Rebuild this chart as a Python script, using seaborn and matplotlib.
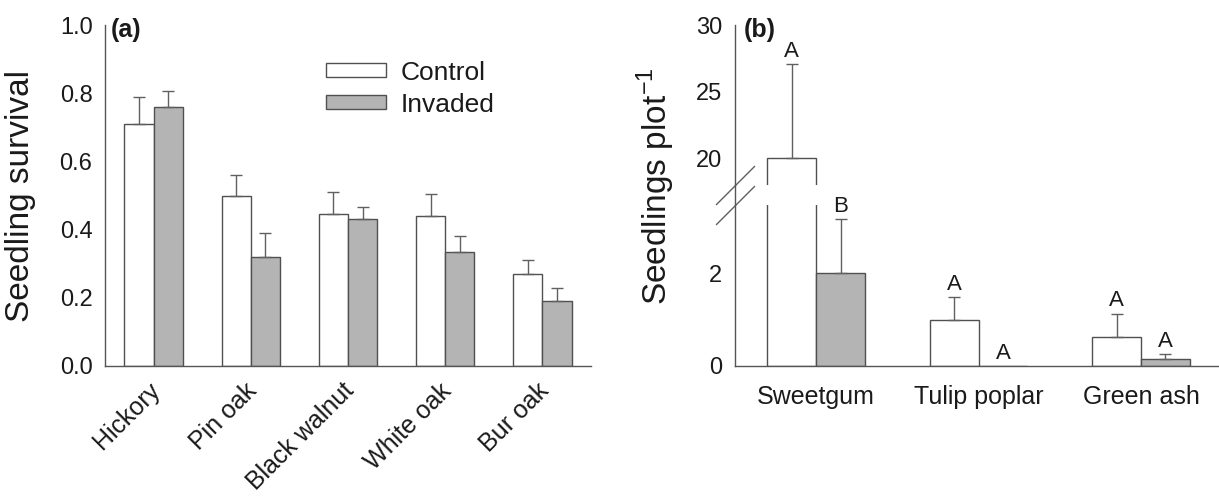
import numpy as np
import pandas as pd
import matplotlib
matplotlib.use("Agg")
import matplotlib.pyplot as plt
import matplotlib.transforms as mtransforms
import seaborn as sns
from matplotlib.lines import Line2D

# ---------------- data ----------------
species_a = ["Hickory", "Pin oak", "Black walnut", "White oak", "Bur oak"]
control_a = [0.71, 0.50, 0.445, 0.44, 0.27]
control_a_se = [0.08, 0.06, 0.065, 0.065, 0.04]
invaded_a = [0.76, 0.32, 0.43, 0.335, 0.19]
invaded_a_se = [0.045, 0.07, 0.035, 0.047, 0.04]

species_b = ["Sweetgum", "Tulip poplar", "Green ash"]
control_b = [20.0, 1.0, 0.63]
control_b_se = [7.1, 0.49, 0.50]
invaded_b = [2.0, 0.0, 0.145]
invaded_b_se = [1.16, 0.0, 0.12]
letters_control_b = ["A", "A", "A"]
letters_invaded_b = ["B", "A", "A"]

treatments = ["Control", "Invaded"]
yticks_a = [0.0, 0.2, 0.4, 0.6, 0.8, 1.0]
yticks_b_top = [20, 25, 30]
yticks_b_bot = [0, 2]

# ---------------- style ----------------
sns.set_style("white")
plt.rcParams["font.family"] = ["Liberation Sans", "DejaVu Sans"]
plt.rcParams["mathtext.fontset"] = "custom"
plt.rcParams["mathtext.rm"] = "Liberation Sans"
TXT = "#1a1a1a"
SP = "#555555"
EDGE = "#505050"
palette = {"Control": "#ffffff", "Invaded": "#b4b4b4"}

df_a = pd.DataFrame({
    "species": species_a * 2,
    "treatment": ["Control"] * 5 + ["Invaded"] * 5,
    "value": control_a + invaded_a,
    "se": control_a_se + invaded_a_se,
})
df_b = pd.DataFrame({
    "species": species_b * 2,
    "treatment": ["Control"] * 3 + ["Invaded"] * 3,
    "value": control_b + invaded_b,
    "se": control_b_se + invaded_b_se,
})

W, H = 1219, 496
fig = plt.figure(figsize=(W / 100, H / 100), dpi=100)


def rect(l, t, r, b):
    return [l / W, 1 - b / H, (r - l) / W, (b - t) / H]


axA = fig.add_axes(rect(105, 25, 591, 366))
axBt = fig.add_axes(rect(735, 25, 1219, 185))
axBb = fig.add_axes(rect(735, 205, 1219, 366))


def draw_bars(ax, df, order):
    sns.barplot(data=df, x="species", y="value", hue="treatment", order=order,
                hue_order=treatments, palette=palette, edgecolor=EDGE,
                linewidth=1.0, width=0.6, errorbar=None, legend=False, ax=ax)
    n = len(order)
    centers, tops = [], []
    for p in ax.patches[:2 * n]:
        centers.append(p.get_x() + p.get_width() / 2)
        tops.append(p.get_height())
    cx = np.array(centers)
    ty = np.array(tops)
    se = np.array(list(df["se"]))
    m = se > 0
    ax.errorbar(cx[m], ty[m], yerr=[np.zeros(m.sum()), se[m]], fmt="none",
                ecolor="#606060", elinewidth=1.0, capsize=4, capthick=1.0, zorder=1)
    return cx, ty, se


def style_ax(ax, xpad):
    for s in ["top", "right"]:
        ax.spines[s].set_visible(False)
    for s in ["left", "bottom"]:
        ax.spines[s].set_color(SP)
        ax.spines[s].set_linewidth(1.0)
    ax.tick_params(axis="y", direction="out", length=5, width=1, color=SP,
                   labelsize=17, labelcolor=TXT, pad=4)
    ax.tick_params(axis="x", length=0, labelsize=18, labelcolor=TXT, pad=xpad)
    ax.set_xlabel("")
    ax.set_ylabel("")


# ---------------- panel (a) ----------------
draw_bars(axA, df_a, species_a)
style_ax(axA, 9)
axA.set_ylim(0, 1.0)
axA.set_xlim(-0.5, 4.5)
axA.set_yticks(yticks_a)
axA.set_yticklabels([f"{v:.1f}" for v in yticks_a])
axA.set_xticks(range(len(species_a)))
axA.set_xticklabels(species_a, rotation=45, ha="right", rotation_mode="anchor")
shift = mtransforms.ScaledTranslation(-6 / 100, 0, fig.dpi_scale_trans)
for lab in axA.get_xticklabels():
    lab.set_transform(lab.get_transform() + shift)
axA.set_ylabel("Seedling survival", fontsize=24, color=TXT)
axA.yaxis.set_label_coords(-0.143, 0.5)
axA.text(0.012, 0.985, "(a)", transform=axA.transAxes, fontsize=18,
         fontweight="bold", color=TXT, ha="left", va="center")
handles = [plt.Rectangle((0, 0), 1, 1, facecolor=palette[t], edgecolor=EDGE, linewidth=1)
           for t in treatments]
axA.legend(handles, treatments, loc="upper left", bbox_to_anchor=(0.405, 0.965),
           frameon=False, fontsize=19, handlelength=2.3, handleheight=0.42,
           handletextpad=0.55, labelspacing=0.3, labelcolor=TXT)

# ---------------- panel (b) broken axis ----------------
for ax in (axBt, axBb):
    draw_bars(ax, df_b, species_b)
    style_ax(ax, 14)
    ax.set_xlim(-0.5, 2.48)

axBt.set_ylim(18, 30)
axBt.set_yticks(yticks_b_top)
axBt.spines["bottom"].set_visible(False)
axBt.set_xticks([])
axBb.set_ylim(0, 3.47)
axBb.set_yticks(yticks_b_bot)
axBb.set_xticks(range(len(species_b)))
axBb.set_xticklabels(species_b)

# letters
cx = [p.get_x() + p.get_width() / 2 for p in axBb.patches[:6]]
vals = control_b + invaded_b
ses = control_b_se + invaded_b_se
letters = letters_control_b + letters_invaded_b
for x, v, s, L in zip(cx, vals, ses, letters):
    top = v + s
    ax = axBt if top > 3.47 else axBb
    ax.annotate(L, (x, top), xytext=(0, 1.5), textcoords="offset points",
                ha="center", va="bottom", fontsize=16, color=TXT, annotation_clip=False)

axBt.text(0.018, 0.97, "(b)", transform=axBt.transAxes, fontsize=18,
          fontweight="bold", color=TXT, ha="left", va="center")

# connect spine across the gap
fig.add_artist(Line2D([735 / W, 735 / W], [1 - 185 / H, 1 - 205 / H],
                      transform=fig.transFigure, color=SP, lw=1.0))
# break marks
mk = dict(marker=[(-1, -1), (1, 1)], markersize=28, linestyle="none",
          color="#606060", mec="#606060", mew=1.0, clip_on=False)
axBt.plot([0], [0], transform=axBt.transAxes, **mk)
axBb.plot([0], [1], transform=axBb.transAxes, **mk)

fig.text(656 / W, 1 - 186 / H, r"Seedlings plot$^{\mathregular{-1}}$", rotation=90,
         ha="center", va="center", fontsize=24, color=TXT)

fig.savefig("out.png", dpi=100, facecolor="white")
